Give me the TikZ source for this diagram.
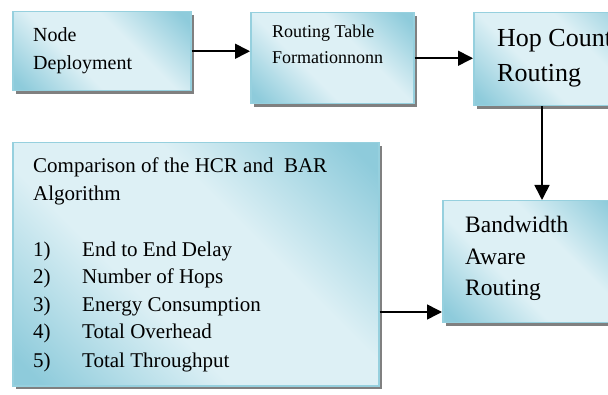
\documentclass[tikz,border=0pt]{standalone}
\usepackage{fontspec}
\setmainfont{Liberation Serif}
\usetikzlibrary{arrows.meta,shadows}
\definecolor{bdark}{HTML}{8ECBDB}
\definecolor{blight}{HTML}{DDF0F5}
\definecolor{bborder}{HTML}{96D0DE}
\pgfdeclarehorizontalshading{boxshade}{100bp}{color(0bp)=(bdark); color(18bp)=(bdark); color(40bp)=(blight); color(60bp)=(blight); color(82bp)=(bdark); color(100bp)=(bdark)}
\begin{document}
\begin{tikzpicture}[x=1pt,y=-1pt,
  boxstyle/.style={draw=bborder, line width=1.5pt, shade, shading=boxshade, shading angle=45,
    anchor=north west, inner sep=0pt,
    drop shadow={shadow xshift=3pt, shadow yshift=-3pt, fill=gray, opacity=1}},
  arr/.style={line width=1.6pt, -{Triangle[length=15pt,width=15pt]}},
  lbl/.style={anchor=base west, inner sep=0pt, text=black}]
\useasboundingbox (0,0) rectangle (608,395);
\clip (0,0) rectangle (608,395);
\fill[white] (0,0) rectangle (608,395);

\node[boxstyle, minimum width=178pt, minimum height=79pt] (b1) at (12,11) {};
\node[boxstyle, minimum width=163pt, minimum height=91pt] (b2) at (250,12) {};
\node[boxstyle, minimum width=175pt, minimum height=93pt] (b3) at (473,12) {};
\node[boxstyle, minimum width=180pt, minimum height=122pt] (b4) at (442,200) {};
\node[boxstyle, minimum width=366pt, minimum height=243pt] (b5) at (12,142) {};

% Box 1
\begin{scope}[lbl/.append style={font=\fontsize{20}{24}\selectfont}]
\node[lbl] (t1a) at (33,42) {Node};
\node[lbl] (t1b) at (33,70) {Deployment};
\end{scope}
% Box 2
\begin{scope}[lbl/.append style={font=\fontsize{18}{22}\selectfont}]
\node[lbl] (t2a) at (272,38) {Routing Table};
\node[lbl] (t2b) at (272,64) {Formationnonn};
\end{scope}
% Box 3
\begin{scope}[lbl/.append style={font=\fontsize{26}{30}\selectfont}]
\node[lbl] (t3a) at (497,47) {Hop Count};
\node[lbl] (t3b) at (497,82) {Routing};
\end{scope}
% Box 4
\begin{scope}[lbl/.append style={font=\fontsize{23.5}{28}\selectfont}]
\node[lbl] (t4a) at (465,233) {Bandwidth};
\node[lbl] (t4b) at (465,265) {Aware};
\node[lbl] (t4c) at (465,296) {Routing};
\end{scope}
% Box 5
\begin{scope}[lbl/.append style={font=\fontsize{21}{25}\selectfont}]
\node[lbl] (t5a) at (33,173) {Comparison of the HCR and~ BAR};
\node[lbl] (t5b) at (33,201) {Algorithm};
\node[lbl] (n1) at (33,257) {1)};
\node[lbl] (n2) at (33,284) {2)};
\node[lbl] (n3) at (33,312) {3)};
\node[lbl] (n4) at (33,339) {4)};
\node[lbl] (n5) at (33,368) {5)};
\node[lbl] (i1) at (82,257) {End to End Delay};
\node[lbl] (i2) at (82,284) {Number of Hops};
\node[lbl] (i3) at (82,312) {Energy Consumption};
\node[lbl] (i4) at (82,339) {Total Overhead};
\node[lbl] (i5) at (82,368) {Total Throughput};
\end{scope}

% connectors
\coordinate (c3) at (542,0);
\coordinate (c4) at (0,312);
\draw[arr] (b1.east) -- (b1.east -| b2.west);
\draw[arr] (b2.east) -- (b2.east -| b3.west);
\draw[arr] (b3.south -| c3) -- (b4.north -| c3);
\draw[arr] (b5.east |- c4) -- (b4.west |- c4);
\end{tikzpicture}
\end{document}
